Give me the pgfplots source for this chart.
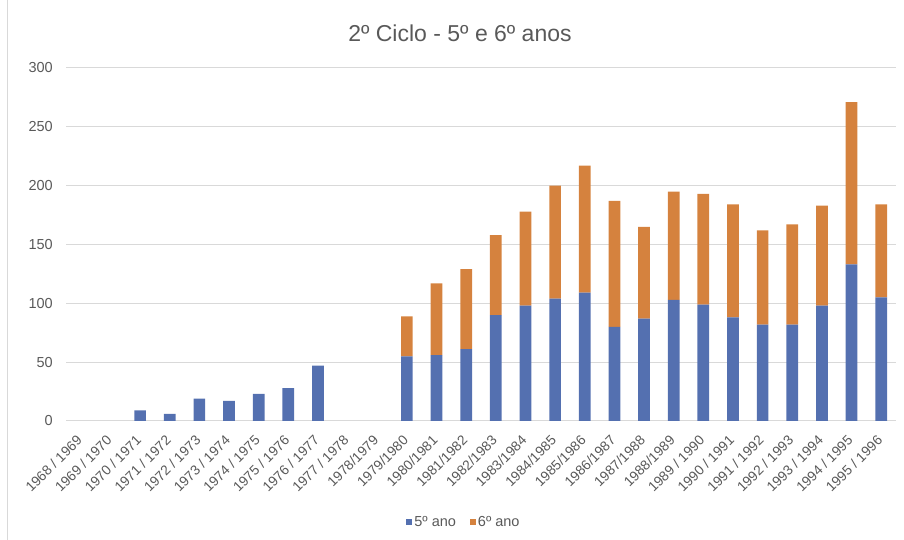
\documentclass[border=0pt]{standalone}
\usepackage{pgfplots}
\pgfplotsset{compat=1.18}
\usepackage{fontspec}
\setmainfont{Liberation Sans}
\definecolor{c5}{RGB}{84,112,176}
\definecolor{c6}{RGB}{213,130,62}
\definecolor{txt}{RGB}{89,89,89}
\definecolor{gridc}{RGB}{217,217,217}
\begin{document}
\begin{tikzpicture}[x=1pt,y=1pt]
\path[use as bounding box] (0,0) rectangle (904,540);
\draw[gridc, line width=1pt] (7.5,0) -- (7.5,540);
\node[anchor=base, text=txt, font=\fontsize{23}{27}\selectfont, inner sep=0pt] at (460,498) {2º Ciclo - 5º e 6º anos};
\begin{axis}[
  at={(66pt,119pt)}, anchor=south west,
  width=830pt, height=353pt, scale only axis,
  xmin=-0.5, xmax=27.5, ymin=0, ymax=300,
  ytick={0,50,...,300},
  xtick={0,...,27},
  xticklabels={1968 / 1969,1969 / 1970,1970 / 1971,1971 / 1972,1972 / 1973,1973 / 1974,1974 / 1975,1975 / 1976,1976 / 1977,1977 / 1978,1978/1979,1979/1980,1980/1981,1981/1982,1982/1983,1983/1984,1984/1985,1985/1986,1986/1987,1987/1988,1988/1989,1989 / 1990,1990 / 1991,1991 / 1992,1992 / 1993,1993 / 1994,1994 / 1995,1995 / 1996},
  ymajorgrids, major grid style={gridc, line width=1pt},
  axis line style={draw=none}, tick style={draw=none},
  /pgf/number format/assume math mode=true,
  ticklabel style={text=txt, font=\fontsize{14.5}{17}\selectfont},
  yticklabel style={anchor=east, inner sep=0pt, xshift=-13pt},
  xticklabel style={font=\fontsize{13.8}{16}\selectfont, xshift=-5pt, yshift=-13pt, rotate=45, anchor=north east, inner sep=0pt},
  ybar stacked, bar width=11.7pt,
  legend style={at={(0.4795,0)}, anchor=center, yshift=-101pt, draw=none, fill=none,
    font=\fontsize{14.5}{17}\selectfont, text=txt, legend columns=2,
    /tikz/every even column/.append style={column sep=12pt}},
  legend image code/.code={\fill[#1] (0pt,-3pt) rectangle (6pt,3pt);},
]
\addplot[fill=c5, draw=none] coordinates {(0,0) (1,0) (2,9) (3,6) (4,19) (5,17) (6,23) (7,28) (8,47) (9,0) (10,0) (11,55) (12,56) (13,61) (14,90) (15,98) (16,104) (17,109) (18,80) (19,87) (20,103) (21,99) (22,88) (23,82) (24,82) (25,98) (26,133) (27,105)};
\addplot[fill=c6, draw=none] coordinates {(0,0) (1,0) (2,0) (3,0) (4,0) (5,0) (6,0) (7,0) (8,0) (9,0) (10,0) (11,34) (12,61) (13,68) (14,68) (15,80) (16,96) (17,108) (18,107) (19,78) (20,92) (21,94) (22,96) (23,80) (24,85) (25,85) (26,138) (27,79)};
\legend{5º ano, 6º ano}
\end{axis}
\end{tikzpicture}
\end{document}
